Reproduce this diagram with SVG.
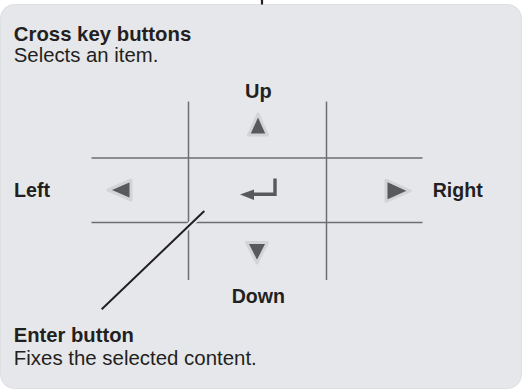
<svg xmlns="http://www.w3.org/2000/svg" width="526" height="392" viewBox="0 0 526 392">
<style>
text{font-family:"Liberation Sans",Arial,sans-serif;fill:#231f20}
.h{font-weight:bold;font-size:20.5px}
.b{font-size:20.5px}
.l{font-weight:bold;font-size:21px}
.grid{stroke:#6d6e71;stroke-width:1.5;fill:none}
.tri{fill:#58595b;stroke:#d3d4d8;stroke-width:3;stroke-linejoin:round}
</style>
<rect x="0" y="0" width="526" height="392" fill="#ffffff"/>
<rect id="panel" x="0.5" y="4.5" width="521" height="384" rx="14" fill="#e6e7ea" stroke="#dedfe2" stroke-width="1"/>
<line x1="262" y1="0" x2="262" y2="4.5" stroke="#231f20" stroke-width="2.2"/>
<g id="grid">
<line class="grid" x1="188.5" y1="101.5" x2="188.5" y2="280"/>
<line class="grid" x1="326.5" y1="101.5" x2="326.5" y2="280"/>
<line class="grid" x1="91.5" y1="158" x2="422.5" y2="158"/>
<line class="grid" x1="91.5" y1="222.5" x2="422.5" y2="222.5"/>
</g>
<g id="cross-key">
<text class="h" x="13.8" y="40.5" textLength="177.5" lengthAdjust="spacingAndGlyphs">Cross key buttons</text>
<text class="b" x="13.8" y="61.8" textLength="144.5" lengthAdjust="spacingAndGlyphs">Selects an item.</text>
</g>
<g id="up">
<text class="l" x="245" y="97.5" textLength="26.7" lengthAdjust="spacingAndGlyphs">Up</text>
<polygon class="tri" points="258,114 248.5,135 267.5,135"/>
</g>
<g id="down">
<polygon class="tri" points="246.5,242.5 267.5,242.5 257,263"/>
<text class="l" x="231.7" y="303.3" textLength="53.3" lengthAdjust="spacingAndGlyphs">Down</text>
</g>
<g id="left">
<text class="l" x="14" y="197.3" textLength="36" lengthAdjust="spacingAndGlyphs">Left</text>
<polygon class="tri" points="108,190 131,180 131,200"/>
</g>
<g id="right">
<polygon class="tri" points="386,180 410,190.8 386,201.5"/>
<text class="l" x="432.7" y="197.3" textLength="50" lengthAdjust="spacingAndGlyphs">Right</text>
</g>
<g id="enter">
<path d="M275,178.5 V194.2 H251" fill="none" stroke="#58595b" stroke-width="3.4"/>
<polygon points="240,194.5 254,189.5 254,200" fill="#58595b"/>
</g>
<g id="connectors">
<line x1="204.3" y1="211" x2="101.7" y2="309.3" stroke="#e6e7ea" stroke-width="6"/>
<line x1="204.3" y1="211" x2="101.7" y2="309.3" stroke="#231f20" stroke-width="2"/>
</g>
<g id="enter-button">
<text class="h" x="13.8" y="342.3" textLength="120" lengthAdjust="spacingAndGlyphs">Enter button</text>
<text class="b" x="13.8" y="365" textLength="243" lengthAdjust="spacingAndGlyphs">Fixes the selected content.</text>
</g>
</svg>
